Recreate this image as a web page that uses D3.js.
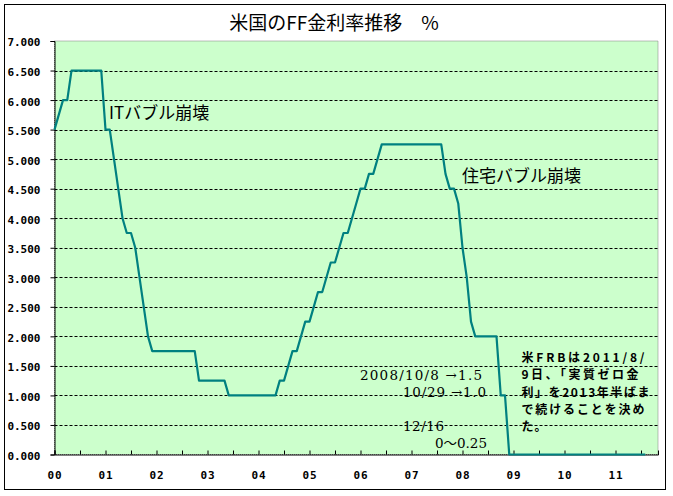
<!DOCTYPE html>
<html>
<head>
<meta charset="utf-8">
<script src="https://cdn.jsdelivr.net/npm/d3@7"></script>
<style>
  body { margin: 0; background: #fff; }
  svg { display: block; }
</style>
</head>
<body>
<svg width="673" height="496"></svg>
<script>
// FF rate at each month end (Jan..Dec)
var rate2000 = [5.5, 5.75, 6.0, 6.0, 6.5, 6.5, 6.5, 6.5, 6.5, 6.5, 6.5, 6.5];
var rate2001 = [5.5, 5.5, 5.0, 4.5, 4.0, 3.75, 3.75, 3.5, 3.0, 2.5, 2.0, 1.75];
var rate2002 = [1.75, 1.75, 1.75, 1.75, 1.75, 1.75, 1.75, 1.75, 1.75, 1.75, 1.25, 1.25];
var rate2003 = [1.25, 1.25, 1.25, 1.25, 1.25, 1.0, 1.0, 1.0, 1.0, 1.0, 1.0, 1.0];
var rate2004 = [1.0, 1.0, 1.0, 1.0, 1.0, 1.25, 1.25, 1.5, 1.75, 1.75, 2.0, 2.25];
var rate2005 = [2.25, 2.5, 2.75, 2.75, 3.0, 3.25, 3.25, 3.5, 3.75, 3.75, 4.0, 4.25];
var rate2006 = [4.5, 4.5, 4.75, 4.75, 5.0, 5.25, 5.25, 5.25, 5.25, 5.25, 5.25, 5.25];
var rate2007 = [5.25, 5.25, 5.25, 5.25, 5.25, 5.25, 5.25, 5.25, 4.75, 4.5, 4.5, 4.25];
var rate2008 = [3.5, 3.0, 2.25, 2.0, 2.0, 2.0, 2.0, 2.0, 2.0, 1.0, 1.0, 0];
var rate2009 = [0, 0, 0, 0, 0, 0, 0, 0, 0, 0, 0, 0];
var rate2010 = [0, 0, 0, 0, 0, 0, 0, 0, 0, 0, 0, 0];
var rate2011 = [0, 0, 0, 0, 0, 0, 0, 0];   // Jan..Aug 2011

var yearLabels = ['00', '01', '02', '03', '04', '05', '06', '07', '08', '09', '10', '11'];
var yTicks = [0, 0.5, 1, 1.5, 2, 2.5, 3, 3.5, 4, 4.5, 5, 5.5, 6, 6.5, 7];
var lastCategory = 142;   // category axis runs on to Nov 2011

var title = '米国のFF金利率推移　%';
var bubbleNotes = ['ITバブル崩壊', '住宅バブル崩壊'];
var cutNotes = ['2008/10/8 →1.5', '10/29 →1.0', '12/16', '0～0.25'];
var frbNote = ['米FRBは2011/8/', '9日、「実質ゼロ金', '利」を2013年半ばま', 'で続けることを決め', 'た。'];

(function() {

  var svg = d3.select('svg');
  var jp = '"Noto Sans CJK JP", sans-serif';
  var serif = '"DejaVu Serif", "Noto Sans CJK JP", serif';
  var mono = '"DejaVu Sans Mono", monospace';

  var rates = [].concat(rate2000, rate2001, rate2002, rate2003, rate2004, rate2005,
                        rate2006, rate2007, rate2008, rate2009, rate2010, rate2011);

  var x = d3.scaleLinear().domain([0, lastCategory]).range([54.5, 658]);
  var y = d3.scaleLinear().domain([0, 7]).range([454.5, 41]);

  // chart frame
  svg.append('rect')
    .attr('x', 4.5).attr('y', 4.5)
    .attr('width', 661).attr('height', 485)
    .attr('fill', '#fff')
    .attr('stroke', '#000');

  svg.append('text')
    .attr('x', 334).attr('y', 23)
    .attr('dy', '0.35em')
    .attr('text-anchor', 'middle')
    .style('font-family', jp)
    .style('font-size', '19px')
    .text(title);

  // plot area
  svg.append('rect')
    .attr('x', x(0)).attr('y', y(7))
    .attr('width', x(lastCategory) - x(0))
    .attr('height', y(0) - y(7))
    .attr('fill', '#ccffcc')
    .attr('stroke', '#808080')
    .attr('stroke-dasharray', '1,1');

  svg.selectAll('.grid')
    .data(yTicks.filter(function(d) { return d > 0 && d < 7; }))
    .enter().append('line')
    .attr('class', 'grid')
    .attr('x1', x(0)).attr('x2', x(lastCategory))
    .attr('y1', function(d) { return Math.round(y(d)) + 0.5; })
    .attr('y2', function(d) { return Math.round(y(d)) + 0.5; })
    .attr('stroke', '#000')
    .attr('stroke-dasharray', '3,2');

  // y axis
  var yAxis = d3.axisLeft(y)
    .tickValues(yTicks)
    .tickSize(4)
    .tickPadding(10)
    .tickFormat(d3.format('.3f'));

  var gy = svg.append('g')
    .attr('transform', 'translate(' + x(0) + ',0)')
    .call(yAxis);
  gy.selectAll('text')
    .attr('dy', '0.45em')
    .style('font-family', mono)
    .style('font-weight', 'bold')
    .style('font-size', '11px')
    .attr('fill', '#000');

  // x axis: ticks every 6 months, labels every year
  var monthTicks = d3.range(0, rates.length, 6);
  var xAxis = d3.axisBottom(x)
    .tickValues(monthTicks)
    .tickSize(-4)
    .tickPadding(17)
    .tickFormat(function(d) { return d % 12 === 0 ? yearLabels[d / 12] : ''; });

  var gx = svg.append('g')
    .attr('transform', 'translate(0,' + y(0) + ')')
    .call(xAxis);
  gx.selectAll('text')
    .style('font-family', mono)
    .style('font-weight', 'bold')
    .style('font-size', '11px')
    .style('letter-spacing', '1px')
    .attr('fill', '#000');

  svg.selectAll('.domain').attr('stroke', '#000');

  // FF rate line
  var line = d3.line()
    .x(function(d, i) { return x(i); })
    .y(function(d) { return y(d); });

  svg.append('path')
    .datum(rates)
    .attr('d', line)
    .attr('fill', 'none')
    .attr('stroke', '#008080')
    .attr('stroke-width', 2.2)
    .attr('stroke-linejoin', 'round');

  // annotations
  var bubblePos = [[x(12.85), y(5.78)], [x(95.9), y(4.72)]];
  svg.selectAll('.bubble')
    .data(bubbleNotes)
    .enter().append('text')
    .attr('class', 'bubble')
    .attr('x', function(d, i) { return bubblePos[i][0]; })
    .attr('y', function(d, i) { return bubblePos[i][1]; })
    .attr('dy', '0.35em')
    .style('font-family', jp)
    .style('font-size', '17px')
    .text(function(d) { return d; });

  var cutPos = [[360, 375, 122], [403, 392, 83], [403, 426, 41], [435, 443, 52]];
  svg.selectAll('.cut')
    .data(cutNotes)
    .enter().append('text')
    .attr('class', 'cut')
    .attr('x', function(d, i) { return cutPos[i][0]; })
    .attr('y', function(d, i) { return cutPos[i][1]; })
    .attr('dy', '0.35em')
    .attr('textLength', function(d, i) { return cutPos[i][2]; })
    .attr('lengthAdjust', 'spacing')
    .style('font-family', serif)
    .style('font-size', '13.5px')
    .text(function(d) { return d; });

  var frbWidth = [123, 117, 128, 123, 25];
  svg.selectAll('.frb')
    .data(frbNote)
    .enter().append('text')
    .attr('class', 'frb')
    .attr('x', 521.5)
    .attr('y', function(d, i) { return 357.5 + i * 17.4; })
    .attr('dy', '0.35em')
    .attr('textLength', function(d, i) { return frbWidth[i]; })
    .attr('lengthAdjust', 'spacing')
    .style('font-family', jp)
    .style('font-weight', 'bold')
    .style('font-size', '12px')
    .text(function(d) { return d; });

})();
</script>
</body>
</html>
